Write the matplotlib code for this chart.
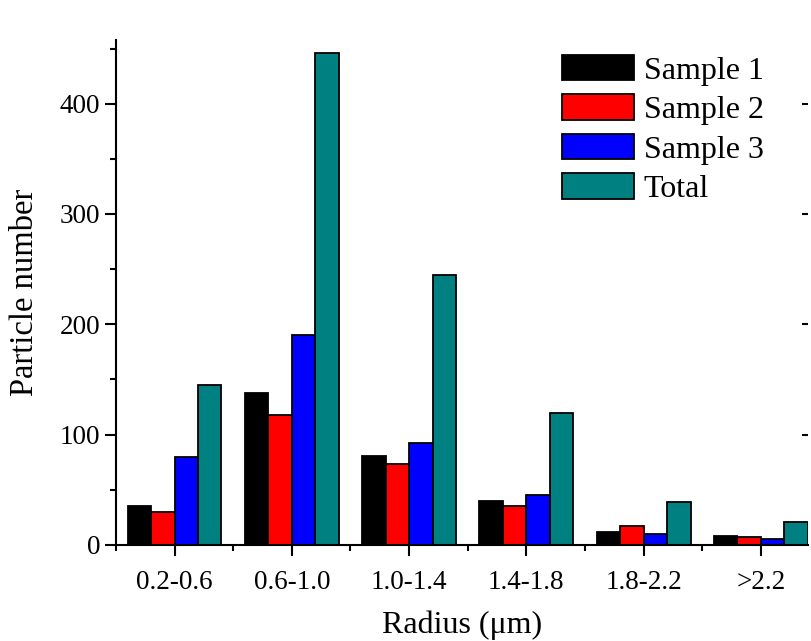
import matplotlib
matplotlib.use("Agg")
import matplotlib.pyplot as plt
import numpy as np
from matplotlib.ticker import MultipleLocator, FixedLocator

# radius bins
categories = ["0.2-0.6", "0.6-1.0", "1.0-1.4", "1.4-1.8", "1.8-2.2", ">2.2"]
# particle counts per sample
sample1 = [35, 138, 81, 40, 12, 8]
sample2 = [30, 118, 73, 35, 17, 7]
sample3 = [80, 190, 92, 45, 10, 5]
total = [145, 446, 245, 120, 39, 21]

series = [("Sample 1", sample1, "#000000"),
          ("Sample 2", sample2, "#ff0000"),
          ("Sample 3", sample3, "#0000ff"),
          ("Total", total, "#008080")]

plt.rcParams["font.family"] = ["Liberation Serif", "DejaVu Serif"]

fig = plt.figure(figsize=(8.11, 6.41), dpi=100)
ax = fig.add_axes([0.143, 0.150, 0.853, 0.788])

x = np.arange(len(categories))
w = 0.2
for i, (name, vals, col) in enumerate(series):
    ax.bar(x + (i - 1.5) * w, vals, w, color=col, edgecolor="black",
           linewidth=1.3, label=name)

ax.set_xlim(-0.5, 5.4)
ax.set_ylim(0, 458)

# axes styling (origin-like)
ax.spines["top"].set_visible(False)
ax.spines["right"].set_visible(False)
for s in ("left", "bottom"):
    ax.spines[s].set_linewidth(1.5)

ax.set_xticks(x)
ax.set_xticklabels(categories)
ax.xaxis.set_minor_locator(FixedLocator(x - 0.5))
ax.yaxis.set_major_locator(MultipleLocator(100))
ax.yaxis.set_minor_locator(MultipleLocator(50))
ax.tick_params(axis="both", which="major", direction="out", length=8,
               width=1.5, labelsize=19.5)
ax.tick_params(axis="both", which="minor", direction="out", length=4,
               width=1.5)
ax.tick_params(axis="x", which="major", pad=10)

# short inward ticks on the right side, no spine
ax2 = ax.twinx()
ax2.set_ylim(ax.get_ylim())
ax2.set_yticks([100, 200, 300, 400])
ax2.tick_params(axis="y", direction="in", length=4, width=1.5,
                labelright=False)
for s in ax2.spines.values():
    s.set_visible(False)

ax.set_xlabel("Radius (\u03bcm)", fontsize=23, labelpad=11)
ax.set_ylabel("Particle number", fontsize=23.5, labelpad=14)

ax.legend(loc="upper left", bbox_to_anchor=(562 / 811, 1 - 55 / 641),
          bbox_transform=fig.transFigure, frameon=False, fontsize=23,
          handlelength=2.26, handleheight=0.85, handletextpad=0.3,
          labelspacing=0.27, borderpad=0, borderaxespad=0)

fig.savefig("out.png", dpi=100)
